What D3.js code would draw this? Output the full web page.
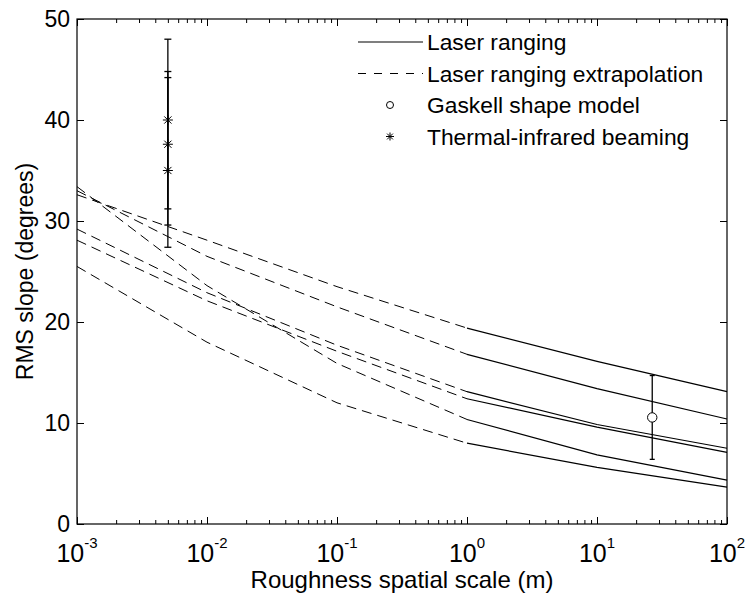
<!DOCTYPE html>
<html>
<head>
<meta charset="utf-8">
<script src="https://cdn.jsdelivr.net/npm/d3@7"></script>
<style>
body { margin: 0; background: #fff; }
text { font-family: "Liberation Sans", Arial, sans-serif; fill: #000; }
</style>
</head>
<body>
<script>
// decade positions where the profiles are sampled
var decades = [1e-3, 1e-2, 1e-1, 1, 10, 100];
var yTicks = [0, 10, 20, 30, 40, 50];

// RMS slope (deg) of the six laser ranging profiles, one value per decade
var slopeA = [32.6, 28.1, 23.5, 19.4, 16.1, 13.1];
var slopeB = [33.0, 26.5, 21.5, 16.8, 13.4, 10.4];
var slopeC = [33.4, 23.6, 15.9, 10.35, 6.85, 4.35];
var slopeD = [29.2, 22.9, 17.7, 13.1, 9.85, 7.5];
var slopeE = [28.1, 22.1, 17.1, 12.4, 9.6, 7.1];
var slopeF = [25.5, 18.0, 12.0, 8.0, 5.6, 3.65];
var profiles = [slopeA, slopeB, slopeC, slopeD, slopeE, slopeF];
var measuredFrom = 1; // below 1 m the curves are extrapolated

// thermal-infrared beaming
var thermalX = 5e-3;
var thermalY = [40.0, 37.6, 35.0];
var thermalLo = [31.2, 29.6, 27.4];
var thermalHi = [48.0, 44.8, 44.2];

// Gaskell shape model
var gaskellX = 26.6;
var gaskellY = 10.55;
var gaskellLo = 6.4;
var gaskellHi = 14.7;

var legendLabels = ["Laser ranging", "Laser ranging extrapolation",
                    "Gaskell shape model", "Thermal-infrared beaming"];

var svgW = 746, svgH = 597;
var padL = 77, padR = 727, padT = 19, padB = 524;

var svg = d3.select("body").append("svg")
    .attr("width", svgW)
    .attr("height", svgH);

svg.append("rect").attr("width", svgW).attr("height", svgH).attr("fill", "#fff");

var xScale = d3.scaleLog().domain([1e-3, 100]).range([padL, padR]);
var yScale = d3.scaleLinear().domain([0, 50]).range([padB, padT]);

// minor ticks 2..9 in every decade
var minor = [];
decades.slice(0, -1).forEach(function(d) {
    for (var k = 2; k <= 9; k++) minor.push(d * k);
});

function tickAxis(axis, vals, size) {
    return axis.tickValues(vals).tickSize(-size).tickSizeOuter(0).tickFormat("");
}

var axes = svg.append("g").attr("class", "axes");
axes.append("g").attr("transform", "translate(0," + padB + ")")
    .call(tickAxis(d3.axisBottom(xScale), decades, 7));
axes.append("g").attr("transform", "translate(0," + padB + ")")
    .call(tickAxis(d3.axisBottom(xScale), minor, 4));
axes.append("g").attr("transform", "translate(0," + padT + ")")
    .call(tickAxis(d3.axisTop(xScale), decades, 7));
axes.append("g").attr("transform", "translate(0," + padT + ")")
    .call(tickAxis(d3.axisTop(xScale), minor, 4));
axes.append("g").attr("transform", "translate(" + padL + ",0)")
    .call(tickAxis(d3.axisLeft(yScale), yTicks, 7));
axes.append("g").attr("transform", "translate(" + padR + ",0)")
    .call(tickAxis(d3.axisRight(yScale), yTicks, 7));
axes.selectAll(".domain").remove();
axes.selectAll("line").attr("stroke", "#000").attr("stroke-width", 1);

svg.append("rect")
    .attr("x", padL).attr("y", padT)
    .attr("width", padR - padL).attr("height", padB - padT)
    .attr("fill", "none").attr("stroke", "#000").attr("stroke-width", 1.2);

// tick labels
svg.selectAll(".ylab").data(yTicks).enter().append("text")
    .attr("class", "ylab")
    .attr("x", padL - 7)
    .attr("y", function(d) { return yScale(d); })
    .attr("dy", "0.36em")
    .attr("text-anchor", "end")
    .attr("font-size", 23)
    .text(function(d) { return d; });

svg.selectAll(".xlab").data(decades).enter().append("text")
    .attr("class", "xlab")
    .attr("x", function(d) { return xScale(d); })
    .attr("y", 562)
    .attr("text-anchor", "middle")
    .attr("font-size", 25)
    .each(function(d) {
        var t = d3.select(this);
        t.append("tspan").text("10");
        t.append("tspan").attr("dy", -14).attr("font-size", 15)
            .text(Math.round(Math.log10(d)));
    });

svg.append("text")
    .attr("x", (padL + padR) / 2)
    .attr("y", 588)
    .attr("text-anchor", "middle")
    .attr("font-size", 24)
    .text("Roughness spatial scale (m)");

svg.append("text")
    .attr("transform", "translate(33," + ((padT + padB) / 2) + ") rotate(-90)")
    .attr("text-anchor", "middle")
    .attr("font-size", 23)
    .text("RMS slope (degrees)");

// curves
var line = d3.line()
    .x(function(d) { return xScale(d[0]); })
    .y(function(d) { return yScale(d[1]); });

var plot = svg.append("g");
profiles.forEach(function(p) {
    var pts = decades.map(function(d, i) { return [d, p[i]]; });
    plot.append("path")
        .attr("d", line(pts.filter(function(q) { return q[0] <= measuredFrom; })))
        .attr("fill", "none").attr("stroke", "#000").attr("stroke-width", 1)
        .attr("stroke-dasharray", "10,6");
    plot.append("path")
        .attr("d", line(pts.filter(function(q) { return q[0] >= measuredFrom; })))
        .attr("fill", "none").attr("stroke", "#000").attr("stroke-width", 1.2);
});

function errorBar(g, xv, lo, hi, cap) {
    var cx = xScale(xv);
    g.append("line").attr("x1", cx).attr("x2", cx)
        .attr("y1", yScale(lo)).attr("y2", yScale(hi));
    [lo, hi].forEach(function(v) {
        g.append("line").attr("x1", cx - cap).attr("x2", cx + cap)
            .attr("y1", yScale(v)).attr("y2", yScale(v));
    });
}

function star(g, cx, cy, r) {
    var d = r * 0.72;
    g.append("path")
        .attr("d", "M" + (cx - r) + "," + cy + "H" + (cx + r) +
              "M" + cx + "," + (cy - r) + "V" + (cy + r) +
              "M" + (cx - d) + "," + (cy - d) + "L" + (cx + d) + "," + (cy + d) +
              "M" + (cx - d) + "," + (cy + d) + "L" + (cx + d) + "," + (cy - d))
        .attr("stroke", "#000").attr("stroke-width", 1).attr("fill", "none");
}

var marks = svg.append("g").attr("stroke", "#000").attr("stroke-width", 1.3);
thermalY.forEach(function(v, i) {
    errorBar(marks, thermalX, thermalLo[i], thermalHi[i], 3.5);
});
thermalY.forEach(function(v) {
    star(svg, xScale(thermalX), yScale(v), 5);
});

errorBar(marks, gaskellX, gaskellLo, gaskellHi, 2.5);
svg.append("circle")
    .attr("cx", xScale(gaskellX)).attr("cy", yScale(gaskellY))
    .attr("r", 4.7)
    .attr("fill", "#fff").attr("stroke", "#000").attr("stroke-width", 1);

// legend
var legX = 358, legLen = 65, legTxt = 427, legY0 = 42, legDy = 31.5;
var leg = svg.append("g");
legendLabels.forEach(function(lbl, i) {
    var ly = legY0 + i * legDy;
    leg.append("text")
        .attr("x", legTxt).attr("y", ly + 8)
        .attr("font-size", 22.8)
        .text(lbl);
    if (i < 2) {
        leg.append("line")
            .attr("x1", legX).attr("x2", legX + legLen)
            .attr("y1", ly).attr("y2", ly)
            .attr("stroke", "#000").attr("stroke-width", 1.1)
            .attr("stroke-dasharray", i == 1 ? "8,8" : null);
    } else if (i == 2) {
        leg.append("circle").attr("cx", 390).attr("cy", ly).attr("r", 3.5)
            .attr("fill", "none").attr("stroke", "#000").attr("stroke-width", 1);
    } else {
        star(leg, 390, ly, 4);
    }
});
</script>
</body>
</html>
